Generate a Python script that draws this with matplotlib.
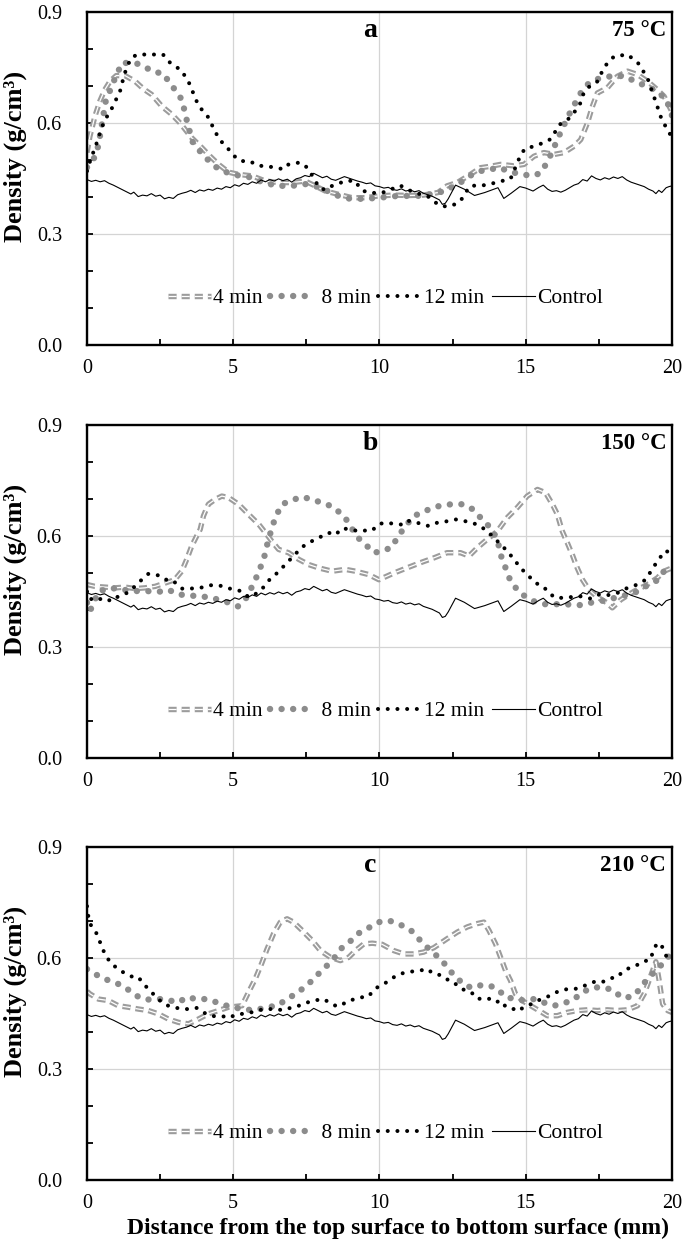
import matplotlib
matplotlib.use("Agg")
import matplotlib.pyplot as plt
import matplotlib.patheffects as pe
from matplotlib.ticker import MultipleLocator, FormatStrFormatter

plt.rcParams['font.family'] = ['Liberation Serif', 'DejaVu Serif']

# ---- data ----
ctrl_x = [0.0, 0.15, 0.3, 0.45, 0.6, 0.75, 0.9, 1.05, 1.2, 1.35, 1.5, 1.6, 1.75, 1.9, 2.05, 2.2, 2.35, 2.5,
          2.65, 2.8, 2.95, 3.1, 3.25, 3.4, 3.55, 3.7, 3.85, 4.0, 4.15, 4.3, 4.45, 4.6, 4.75, 4.9, 5.05, 5.2,
          5.35, 5.5, 5.65, 5.8, 5.95, 6.1, 6.25, 6.4, 6.55, 6.7, 6.85, 7.0, 7.15, 7.3, 7.45, 7.6, 7.75, 7.9,
          8.05, 8.2, 8.35, 8.5, 8.65, 8.8, 8.95, 9.1, 9.25, 9.4, 9.55, 9.7, 9.85, 10.0, 10.15, 10.3, 10.45,
          10.6, 10.75, 10.9, 11.05, 11.2, 11.35, 11.5, 11.65, 11.8, 11.95, 12.05, 12.15, 12.25, 12.35, 12.6,
          12.9, 13.25, 13.6, 14.05, 14.25, 14.5, 14.8, 15.0, 15.25, 15.45, 15.6, 15.75, 15.9, 16.05, 16.2,
          16.35, 16.5, 16.65, 16.8, 16.95, 17.1, 17.25, 17.4, 17.55, 17.7, 17.85, 18.0, 18.15, 18.3, 18.45,
          18.6, 18.75, 18.9, 19.05, 19.2, 19.35, 19.45, 19.55, 19.65, 19.8, 19.9, 20.0]
ctrl_y = [0.447, 0.442, 0.445, 0.441, 0.444, 0.437, 0.432, 0.426, 0.420, 0.414, 0.408, 0.413, 0.401, 0.405,
          0.403, 0.409, 0.402, 0.405, 0.395, 0.399, 0.396, 0.406, 0.410, 0.413, 0.418, 0.412, 0.419, 0.416,
          0.421, 0.418, 0.424, 0.421, 0.428, 0.425, 0.433, 0.429, 0.437, 0.434, 0.441, 0.437, 0.446, 0.441,
          0.447, 0.443, 0.449, 0.444, 0.448, 0.440, 0.449, 0.452, 0.458, 0.455, 0.464, 0.458, 0.452, 0.456,
          0.448, 0.445, 0.450, 0.455, 0.451, 0.447, 0.443, 0.440, 0.436, 0.438, 0.430, 0.428, 0.424, 0.426,
          0.420, 0.418, 0.422, 0.416, 0.419, 0.414, 0.417, 0.410, 0.406, 0.402, 0.396, 0.392, 0.380, 0.383,
          0.395, 0.432, 0.421, 0.404, 0.412, 0.425, 0.396, 0.410, 0.428, 0.424, 0.416, 0.426, 0.432, 0.421,
          0.415, 0.417, 0.413, 0.418, 0.425, 0.432, 0.436, 0.447, 0.443, 0.457, 0.450, 0.446, 0.452, 0.448,
          0.454, 0.450, 0.455, 0.446, 0.440, 0.436, 0.432, 0.428, 0.421, 0.416, 0.409, 0.418, 0.412, 0.425,
          0.428, 0.430]

# panel a, 75 C
a4_x = [0, 0.1, 0.27, 0.44, 0.61, 0.79, 1.0, 1.3, 1.64, 1.93, 2.21, 2.56, 2.9, 3.18, 3.58, 3.93, 4.21, 4.5,
        4.84, 5.18, 5.64, 6.1, 6.55, 7.0, 7.46, 7.8, 8.15, 8.6, 9.06, 9.52, 9.98, 10.5, 11.0, 11.5, 12.0,
        12.31, 12.66, 13.11, 13.45, 13.8, 14.14, 14.6, 14.94, 15.28, 15.62, 15.97, 16.31, 16.65, 16.88,
        17.11, 17.28, 17.45, 17.79, 18.13, 18.48, 18.82, 19.16, 19.5, 19.73, 20.0]
a4_y = [0.52, 0.564, 0.618, 0.659, 0.69, 0.713, 0.728, 0.728, 0.713, 0.692, 0.677, 0.645, 0.623, 0.6, 0.56,
        0.533, 0.51, 0.488, 0.467, 0.461, 0.457, 0.443, 0.439, 0.439, 0.443, 0.43, 0.416, 0.407, 0.398,
        0.398, 0.403, 0.405, 0.404, 0.405, 0.412, 0.43, 0.439, 0.461, 0.479, 0.483, 0.488, 0.484, 0.488,
        0.51, 0.52, 0.515, 0.52, 0.537, 0.555, 0.6, 0.645, 0.681, 0.695, 0.726, 0.74, 0.731, 0.713, 0.69,
        0.672, 0.63]
a8_x = [0, 0.25, 0.39, 0.64, 1.01, 1.22, 1.47, 1.76, 2.1, 2.3, 2.58, 2.84, 3.04, 3.26, 3.35, 3.6, 4.0, 4.5,
        5.0, 5.5, 6.0, 6.5, 7.0, 7.5, 8.0, 8.5, 9.0, 9.5, 10.0, 10.5, 11.0, 11.5, 11.86, 12.26, 12.54,
        12.9, 13.17, 13.45, 13.8, 14.14, 14.37, 14.8, 15.22, 15.49, 15.74, 16.0, 16.25, 16.54, 16.88, 17.16,
        17.5, 18.02, 18.42, 18.82, 19.22, 19.5, 19.79, 20.0]
a8_y = [0.48, 0.506, 0.539, 0.659, 0.731, 0.764, 0.76, 0.76, 0.746, 0.737, 0.735, 0.708, 0.686, 0.661,
        0.626, 0.55, 0.51, 0.475, 0.46, 0.455, 0.44, 0.43, 0.43, 0.435, 0.425, 0.405, 0.395, 0.395, 0.398,
        0.402, 0.403, 0.403, 0.41, 0.416, 0.43, 0.445, 0.461, 0.47, 0.475, 0.479, 0.47, 0.462, 0.457,
        0.464, 0.494, 0.54, 0.585, 0.632, 0.681, 0.708, 0.72, 0.728, 0.726, 0.708, 0.699, 0.681, 0.668, 0.62]
a12_x = [0, 0.14, 0.27, 0.48, 0.59, 0.84, 0.98, 1.13, 1.28, 1.39, 1.51, 1.72, 2.0, 2.3, 2.6, 2.81, 3.24,
         3.49, 3.81, 4.13, 4.42, 4.58, 4.82, 5.01, 5.26, 5.56, 5.84, 6.32, 6.72, 6.89, 7.26, 7.46, 7.64,
         7.94, 8.15, 8.35, 8.86, 9.18, 9.35, 9.58, 10.03, 10.26, 10.71, 11.17, 11.63, 12.03, 12.29, 12.52,
         12.77, 12.94, 13.11, 13.63, 14.03, 14.48, 14.6, 14.71, 14.96, 15.28, 15.59, 15.87, 16.14, 16.37,
         16.56, 16.85, 16.94, 17.11, 17.43, 17.7, 18.02, 18.48, 18.84, 19.16, 19.45, 19.65, 19.94, 20.0]
a12_y = [0.47, 0.506, 0.531, 0.582, 0.605, 0.638, 0.661, 0.686, 0.732, 0.755, 0.776, 0.785, 0.785, 0.785,
         0.785, 0.765, 0.741, 0.708, 0.647, 0.617, 0.571, 0.551, 0.531, 0.512, 0.497, 0.497, 0.485, 0.481,
         0.475, 0.488, 0.493, 0.485, 0.466, 0.425, 0.419, 0.429, 0.444, 0.443, 0.421, 0.412, 0.41, 0.416,
         0.431, 0.412, 0.403, 0.378, 0.374, 0.378, 0.389, 0.412, 0.43, 0.432, 0.44, 0.449, 0.47, 0.494,
         0.53, 0.537, 0.546, 0.557, 0.595, 0.605, 0.618, 0.65, 0.674, 0.695, 0.71, 0.753, 0.78, 0.785,
         0.762, 0.722, 0.656, 0.609, 0.569, 0.565]

# panel b, 150 C
b4_x = [0, 0.27, 0.61, 0.96, 1.3, 1.65, 1.98, 2.33, 2.67, 3.0, 3.24, 3.41, 3.58, 3.75, 3.87, 3.98, 4.15,
        4.38, 4.61, 4.84, 5.18, 5.52, 5.87, 6.15, 6.32, 6.55, 6.89, 7.24, 7.58, 7.92, 8.38, 8.83, 9.18,
        9.63, 9.98, 10.49, 10.94, 11.4, 11.86, 12.31, 12.77, 13.06, 13.34, 13.68, 14.03, 14.37, 14.71,
        15.05, 15.4, 15.68, 15.91, 16.08, 16.25, 16.42, 16.59, 16.76, 16.94, 17.16, 17.45, 17.79, 17.96,
        18.25, 18.71, 19.16, 19.5, 19.73, 20.0]
b4_y = [0.469, 0.464, 0.462, 0.46, 0.462, 0.458, 0.46, 0.464, 0.473, 0.482, 0.505, 0.537, 0.573, 0.6,
        0.618, 0.654, 0.686, 0.699, 0.708, 0.704, 0.686, 0.659, 0.632, 0.604, 0.586, 0.564, 0.555, 0.537,
        0.523, 0.514, 0.505, 0.51, 0.505, 0.496, 0.482, 0.5, 0.514, 0.528, 0.541, 0.555, 0.555, 0.546,
        0.568, 0.591, 0.613, 0.65, 0.677, 0.708, 0.726, 0.717, 0.686, 0.659, 0.613, 0.582, 0.55, 0.514,
        0.482, 0.455, 0.435, 0.419, 0.406, 0.428, 0.451, 0.469, 0.487, 0.505, 0.514]
b8_x = [0, 0.1, 0.4, 0.8, 1.2, 1.76, 2.1, 2.44, 2.78, 3.13, 3.47, 3.81, 4.15, 4.5, 4.85, 5.16, 5.47, 5.8,
        6.04, 6.2, 6.44, 6.67, 7.01, 7.35, 7.69, 8.03, 8.35, 8.72, 8.95, 9.2, 9.5, 9.8, 10.09, 10.43, 10.6,
        10.89, 11.17, 11.63, 12.03, 12.45, 12.86, 13.2, 13.51, 13.8, 14.03, 14.14, 14.31, 14.48, 14.77,
        15.05, 15.4, 15.74, 16.14, 16.48, 16.82, 17.16, 17.56, 17.9, 18.25, 18.71, 19.1, 19.45, 19.73, 20.0]
b8_y = [0.42, 0.397, 0.45, 0.46, 0.455, 0.451, 0.451, 0.449, 0.455, 0.442, 0.44, 0.437, 0.435, 0.428, 0.42,
        0.41, 0.435, 0.49, 0.537, 0.59, 0.651, 0.686, 0.697, 0.706, 0.699, 0.69, 0.681, 0.659, 0.636, 0.6,
        0.579, 0.555, 0.559, 0.57, 0.595, 0.627, 0.654, 0.67, 0.681, 0.686, 0.686, 0.672, 0.645, 0.622,
        0.591, 0.55, 0.514, 0.478, 0.449, 0.433, 0.419, 0.415, 0.416, 0.415, 0.413, 0.419, 0.424, 0.43,
        0.437, 0.446, 0.464, 0.478, 0.505, 0.51]
b12_x = [0, 0.04, 0.3, 0.56, 0.84, 1.07, 1.36, 1.64, 1.87, 2.1, 2.33, 2.56, 2.78, 2.96, 3.24, 3.53, 3.87,
         4.21, 4.5, 4.72, 5.01, 5.3, 5.52, 5.8, 6.04, 6.27, 6.5, 6.78, 7.06, 7.35, 7.58, 7.81, 8.04, 8.26,
         8.49, 8.72, 9.0, 9.29, 9.52, 9.75, 9.98, 10.26, 10.49, 10.77, 10.94, 11.29, 11.69, 11.97, 12.31,
         12.6, 12.94, 13.17, 13.45, 13.74, 13.97, 14.2, 14.37, 14.6, 14.82, 15.05, 15.34, 15.6, 15.79, 16.02,
         16.25, 16.54, 16.88, 17.22, 17.51, 17.79, 18.13, 18.48, 18.82, 19.1, 19.39, 19.56, 19.73, 20.0]
b12_y = [0.45, 0.433, 0.425, 0.433, 0.424, 0.437, 0.446, 0.464, 0.482, 0.498, 0.496, 0.491, 0.478, 0.478,
         0.458, 0.458, 0.46, 0.467, 0.467, 0.462, 0.455, 0.451, 0.435, 0.445, 0.462, 0.485, 0.5, 0.523,
         0.546, 0.57, 0.582, 0.591, 0.6, 0.609, 0.603, 0.621, 0.618, 0.613, 0.615, 0.615, 0.633, 0.636,
         0.633, 0.631, 0.642, 0.636, 0.627, 0.636, 0.64, 0.645, 0.64, 0.636, 0.627, 0.609, 0.591, 0.573,
         0.559, 0.537, 0.514, 0.496, 0.473, 0.464, 0.446, 0.433, 0.433, 0.435, 0.437, 0.431, 0.442, 0.44,
         0.446, 0.46, 0.469, 0.482, 0.519, 0.537, 0.559, 0.557]

# panel c, 210 C
c4_x = [0, 0.1, 0.39, 0.73, 1.07, 1.41, 1.76, 2.1, 2.44, 2.78, 3.13, 3.47, 3.81, 4.15, 4.5, 4.84, 5.3, 5.52,
        5.75, 5.98, 6.15, 6.38, 6.61, 6.84, 7.06, 7.35, 7.69, 7.98, 8.32, 8.66, 8.95, 9.18, 9.46, 9.75,
        10.09, 10.49, 10.83, 11.17, 11.51, 11.86, 12.31, 12.66, 13.0, 13.34, 13.57, 13.74, 13.97, 14.14,
        14.31, 14.48, 14.65, 14.88, 15.17, 15.45, 15.74, 16.08, 16.42, 16.76, 17.11, 17.45, 17.79, 18.13,
        18.48, 18.82, 19.05, 19.22, 19.45, 19.56, 19.68, 19.85, 20.0]
c4_y = [0.51, 0.503, 0.489, 0.485, 0.471, 0.467, 0.462, 0.458, 0.449, 0.435, 0.426, 0.422, 0.435, 0.449,
        0.458, 0.467, 0.471, 0.507, 0.543, 0.587, 0.623, 0.666, 0.697, 0.706, 0.697, 0.675, 0.648, 0.62,
        0.602, 0.593, 0.602, 0.62, 0.638, 0.64, 0.637, 0.62, 0.611, 0.611, 0.616, 0.628, 0.652, 0.67,
        0.684, 0.693, 0.697, 0.675, 0.638, 0.602, 0.566, 0.539, 0.503, 0.485, 0.471, 0.458, 0.444, 0.444,
        0.453, 0.458, 0.46, 0.458, 0.46, 0.458, 0.46, 0.471, 0.503, 0.54, 0.59, 0.54, 0.476, 0.458, 0.453]
c8_x = [0, 0.1, 0.5, 0.84, 1.19, 1.53, 1.81, 2.16, 2.5, 2.84, 3.13, 3.41, 3.75, 4.1, 4.44, 4.78, 5.12, 5.47,
        5.81, 6.15, 6.49, 6.95, 7.29, 7.6, 7.86, 8.15, 8.43, 8.72, 9.01, 9.29, 9.58, 9.86, 10.09, 10.37,
        10.69, 11.06, 11.34, 11.63, 11.9, 12.14, 12.4, 12.63, 12.88, 13.17, 13.45, 13.74, 14.03, 14.31,
        14.6, 14.94, 15.28, 15.6, 15.97, 16.31, 16.63, 16.94, 17.3, 17.62, 17.96, 18.31, 18.65, 18.88,
        19.16, 19.45, 19.73, 20.0]
c8_y = [0.57, 0.566, 0.546, 0.537, 0.526, 0.508, 0.492, 0.487, 0.489, 0.485, 0.48, 0.494, 0.489, 0.489,
        0.48, 0.471, 0.465, 0.46, 0.46, 0.467, 0.471, 0.494, 0.512, 0.532, 0.553, 0.575, 0.598, 0.628,
        0.646, 0.667, 0.679, 0.693, 0.7, 0.7, 0.691, 0.676, 0.652, 0.629, 0.61, 0.593, 0.566, 0.548, 0.528,
        0.519, 0.526, 0.526, 0.517, 0.494, 0.49, 0.485, 0.489, 0.48, 0.471, 0.478, 0.487, 0.508, 0.52,
        0.521, 0.514, 0.492, 0.496, 0.514, 0.544, 0.566, 0.589, 0.616]
c12_x = [0, 0.04, 0.1, 0.33, 0.56, 0.71, 0.9, 1.07, 1.28, 1.53, 1.73, 1.87, 2.04, 2.21, 2.38, 2.61, 2.78,
         3.07, 3.3, 3.53, 3.75, 3.98, 4.21, 4.44, 4.67, 4.84, 5.01, 5.3, 5.52, 5.75, 6.04, 6.32, 6.55, 6.78,
         7.01, 7.24, 7.46, 7.75, 7.92, 8.09, 8.32, 8.55, 8.72, 8.95, 9.18, 9.41, 9.63, 9.8, 10.03, 10.26,
         10.49, 10.71, 10.94, 11.17, 11.4, 11.61, 11.86, 12.14, 12.37, 12.54, 12.71, 12.94, 13.13, 13.36,
         13.57, 13.8, 13.97, 14.14, 14.31, 14.48, 14.71, 14.94, 15.17, 15.4, 15.68, 15.91, 16.19, 16.48,
         16.76, 17.16, 17.39, 17.62, 17.91, 18.08, 18.31, 18.48, 18.65, 18.88, 19.05, 19.22, 19.33, 19.45,
         19.62, 19.73, 19.9, 20.0]
c12_y = [0.74, 0.715, 0.693, 0.666, 0.62, 0.598, 0.58, 0.571, 0.559, 0.55, 0.55, 0.537, 0.521, 0.507,
         0.494, 0.476, 0.471, 0.465, 0.462, 0.462, 0.465, 0.453, 0.444, 0.442, 0.442, 0.447, 0.442, 0.449,
         0.451, 0.456, 0.462, 0.462, 0.46, 0.46, 0.467, 0.471, 0.478, 0.485, 0.487, 0.489, 0.478, 0.469,
         0.474, 0.485, 0.489, 0.494, 0.496, 0.514, 0.526, 0.535, 0.548, 0.557, 0.562, 0.564, 0.566, 0.571,
         0.557, 0.553, 0.539, 0.535, 0.521, 0.512, 0.508, 0.489, 0.492, 0.489, 0.48, 0.485, 0.469, 0.467,
         0.456, 0.467, 0.475, 0.485, 0.492, 0.503, 0.512, 0.517, 0.517, 0.53, 0.537, 0.535, 0.546, 0.546,
         0.562, 0.571, 0.575, 0.584, 0.592, 0.593, 0.611, 0.634, 0.64, 0.616, 0.592, 0.592]

labels = ['4 min', ' 8 min', '12 min', 'Control']
letters = ['a', 'b', 'c']
temps = ['75 °C', '150 °C', '210 °C']

gray4 = '#9c9c9c'
gray8 = '#8c8c8c'


def panel(ax, d4, d8, d12, letter, temp):
    l4, = ax.plot(d4[0], d4[1], color='white', lw=0.9, ls=(0, (6.5, 4.0)),
                  dash_capstyle='butt', label=labels[0],
                  path_effects=[pe.Stroke(linewidth=3.9, foreground=gray4), pe.Normal()])
    l8, = ax.plot(d8[0], d8[1], color=gray8, lw=4.6, ls=(0, (0.01, 1.8)),
                  dash_capstyle='round', label=labels[1])
    l12, = ax.plot(d12[0], d12[1], color='black', lw=2.9, ls=(0, (0.01, 2.4)),
                   dash_capstyle='round', label=labels[2])
    lc, = ax.plot(ctrl_x, ctrl_y, color='black', lw=0.8, label=labels[3])

    ax.set_xlim(0, 20)
    ax.set_ylim(0, 0.9)
    ax.xaxis.set_major_locator(MultipleLocator(5))
    ax.xaxis.set_minor_locator(MultipleLocator(2.5))
    ax.yaxis.set_major_locator(MultipleLocator(0.3))
    ax.yaxis.set_minor_locator(MultipleLocator(0.1))
    ax.yaxis.set_major_formatter(FormatStrFormatter('%.1f'))
    ax.grid(True, which='major', color='#d4d4d4', lw=0.9, zorder=0)
    ax.set_axisbelow(True)
    ax.tick_params(which='both', direction='in', length=4, width=1.3, labelsize=14.5)
    ax.tick_params(axis='y', pad=18)
    ax.tick_params(axis='x', pad=10)
    for s in ax.spines.values():
        s.set_linewidth(1.7)
        s.set_color('black')

    ax.set_ylabel('Density (g/cm³)', fontsize=19, fontweight='bold')
    ax.yaxis.set_label_coords(-0.102, 0.565)
    ax.text(0.484, 0.945, letter, transform=ax.transAxes, ha='center', va='center',
            fontsize=20, fontweight='bold')
    ax.text(0.99, 0.945, temp, transform=ax.transAxes, ha='right', va='center',
            fontsize=16.5, fontweight='bold')
    ax.legend(handles=[l4, l8, l12, lc], loc='center', bbox_to_anchor=(0.51, 0.14),
              ncol=4, frameon=False, fontsize=15.5, handlelength=2.0, handletextpad=0.12,
              columnspacing=0.35, borderaxespad=0)


fig = plt.figure(figsize=(6.85, 12.48), dpi=100)
ax1 = fig.add_axes([0.127, 0.7236, 0.854, 0.2668])
ax2 = fig.add_axes([0.127, 0.3926, 0.854, 0.2668])
ax3 = fig.add_axes([0.127, 0.0545, 0.854, 0.2668])

panel(ax1, (a4_x, a4_y), (a8_x, a8_y), (a12_x, a12_y), letters[0], temps[0])
panel(ax2, (b4_x, b4_y), (b8_x, b8_y), (b12_x, b12_y), letters[1], temps[1])
panel(ax3, (c4_x, c4_y), (c8_x, c8_y), (c12_x, c12_y), letters[2], temps[2])

ax3.set_xlabel('Distance from the top surface to bottom surface (mm)', fontsize=17,
               fontweight='bold')
ax3.xaxis.set_label_coords(0.532, -0.113)

fig.savefig('out.png', dpi=100)
plt.close(fig)
